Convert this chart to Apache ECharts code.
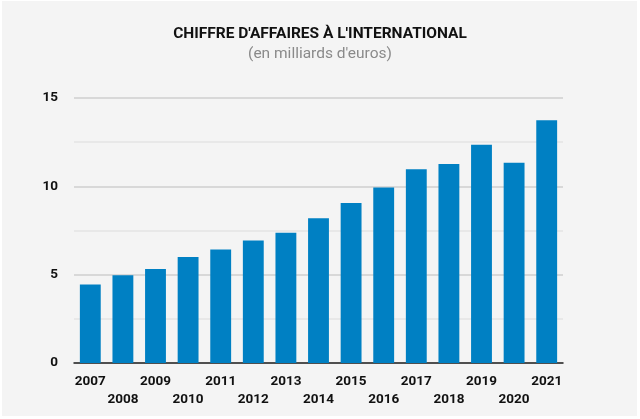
<!DOCTYPE html>
<html>
<head>
<meta charset="utf-8">
<script src="https://cdn.jsdelivr.net/npm/echarts@6/dist/echarts.min.js"></script>
<style>
  html, body { margin: 0; padding: 0; background: #ffffff; }
  #chart { width: 640px; height: 419px; }
</style>
</head>
<body>
<div id="chart"></div>
<script>
var years = ['2007', '2008', '2009', '2010', '2011', '2012', '2013', '2014',
  '2015', '2016', '2017', '2018', '2019', '2020', '2021'];
var values = [4.45, 4.96, 5.32, 6.0, 6.43, 6.94, 7.37, 8.2,
  9.06, 9.94, 10.96, 11.26, 12.35, 11.34, 13.74];
var yTicks = [0, 5, 10, 15];

var myChart = echarts.init(document.getElementById('chart'));
var option = {
  backgroundColor: '#ffffff',
  animation: false,
  graphic: [
    {
      type: 'rect',
      z: -10,
      shape: { x: 2, y: 1, width: 635, height: 415 },
      style: { fill: '#f4f4f4' }
    }
  ],
  title: {
    text: "CHIFFRE D'AFFAIRES À L'INTERNATIONAL",
    subtext: "(en milliards d'euros)",
    left: 'center',
    top: 21,
    itemGap: 4,
    textStyle: {
      fontFamily: 'Roboto',
      fontWeight: 'bold',
      fontSize: 15.5,
      color: '#111111'
    },
    subtextStyle: {
      fontFamily: 'Roboto',
      fontSize: 15.5,
      color: '#8a8a8a'
    }
  },
  grid: {
    left: 74,
    right: 77,
    top: 98,
    bottom: 56
  },
  xAxis: {
    type: 'category',
    data: years,
    axisTick: { show: false },
    axisLine: { lineStyle: { color: '#222222', width: 1.5 } },
    axisLabel: {
      interval: 0,
      margin: 10,
      lineHeight: 18,
      fontFamily: 'Roboto',
      fontWeight: 'bold',
      fontSize: 13.5,
      color: '#111111',
      formatter: function (v, i) {
        return i % 2 ? '\n' + v : v;
      }
    }
  },
  yAxis: {
    type: 'value',
    min: 0,
    max: 15,
    interval: 2.5,
    axisLine: { show: false },
    axisTick: { show: false },
    axisLabel: {
      margin: 16,
      fontFamily: 'Roboto',
      fontWeight: 'bold',
      fontSize: 13.5,
      color: '#111111',
      formatter: function (v) {
        // only 0, 5, 10, 15 are labelled; 2.5 steps are plain grid lines
        return yTicks.indexOf(v) >= 0 ? String(v) : '';
      }
    },
    splitLine: {
      lineStyle: {
        width: 1.5,
        color: ['#cfcfcf', '#e5e5e5']
      }
    }
  },
  series: [
    {
      type: 'bar',
      data: values,
      barWidth: '64%',
      itemStyle: { color: '#0080c3' }
    }
  ]
};
myChart.setOption(option);
window.addEventListener('resize', function () {
  myChart.resize();
});
</script>
</body>
</html>
